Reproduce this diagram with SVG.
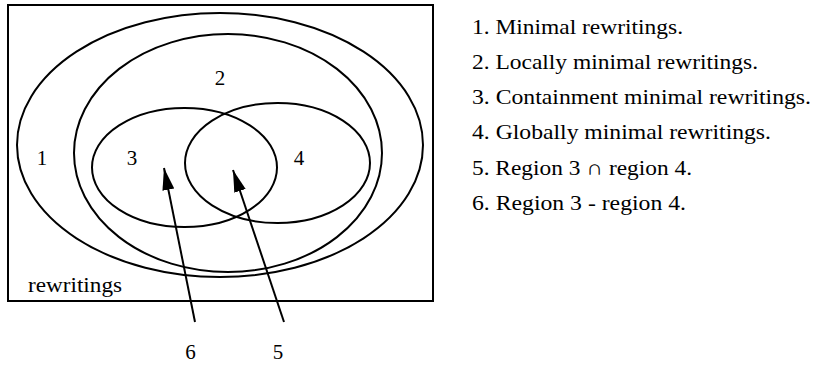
<svg xmlns="http://www.w3.org/2000/svg" width="815" height="366" viewBox="0 0 815 366">
<style>
.sh{fill:none;stroke:#000;stroke-width:2}
.t{font-family:'Liberation Serif','DejaVu Serif',serif;font-size:21px;fill:#000}
.c{text-anchor:middle}
.ar{stroke:#000;stroke-width:2;fill:none}
</style>
<defs>
<marker id="ah" markerUnits="userSpaceOnUse" markerWidth="24" markerHeight="14" refX="22" refY="6" orient="auto" viewBox="0 0 24 12">
<path d="M0,0 L22,6 L0,12 Z" fill="#000"/>
</marker>
</defs>
<g id="box"><rect class="sh" x="8" y="5" width="425" height="296"/>
<text class="t" font-family="Liberation Serif, DejaVu Serif, serif" x="28" y="292" textLength="94" lengthAdjust="spacingAndGlyphs">rewritings</text></g>
<g id="region1"><ellipse class="sh" cx="220" cy="145" rx="203" ry="132"/>
<text class="t c" x="42" y="165">1</text></g>
<g id="region2"><ellipse class="sh" cx="228" cy="153" rx="154" ry="119"/>
<text class="t c" x="220" y="85">2</text></g>
<g id="region3"><ellipse class="sh" cx="184.5" cy="167.5" rx="92.5" ry="59.5"/>
<text class="t c" x="132" y="165">3</text></g>
<g id="region4"><ellipse class="sh" cx="277.5" cy="163" rx="92.5" ry="60"/>
<text class="t c" x="299" y="165">4</text></g>
<g id="connectors">
<line class="ar" x1="195" y1="322" x2="164" y2="168" marker-end="url(#ah)"/>
<line class="ar" x1="284" y1="322" x2="233" y2="170" marker-end="url(#ah)"/>
</g>
<g id="label6"><text class="t c" x="190.5" y="359">6</text></g>
<g id="label5"><text class="t c" x="278" y="359">5</text></g>
<g id="legend">
<text class="t" x="472" y="34" textLength="211" lengthAdjust="spacingAndGlyphs">1. Minimal rewritings.</text>
<text class="t" x="472" y="69" textLength="286" lengthAdjust="spacingAndGlyphs">2. Locally minimal rewritings.</text>
<text class="t" x="472" y="104" textLength="339" lengthAdjust="spacingAndGlyphs">3. Containment minimal rewritings.</text>
<text class="t" x="472" y="139" textLength="299" lengthAdjust="spacingAndGlyphs">4. Globally minimal rewritings.</text>
<text class="t" x="472" y="175" textLength="220" lengthAdjust="spacingAndGlyphs">5. Region 3 ∩ region 4.</text>
<text class="t" x="472" y="210" textLength="214" lengthAdjust="spacingAndGlyphs">6. Region 3 - region 4.</text>
</g>
</svg>
